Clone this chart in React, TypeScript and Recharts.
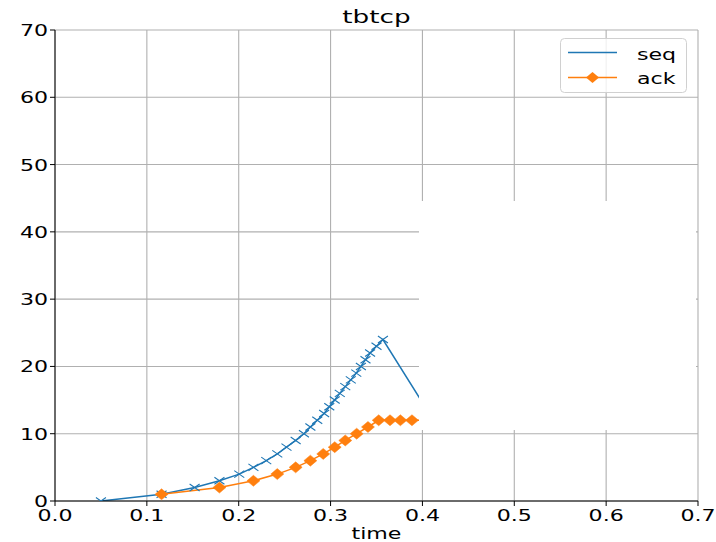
import React from 'react';
import {
  LineChart,
  Line,
  XAxis,
  YAxis,
  CartesianGrid,
} from 'recharts';

// seq series (time, seq number)
const seqTimes = [0.05, 0.116, 0.152, 0.179, 0.2006, 0.216, 0.23, 0.242, 0.252, 0.262, 0.271, 0.278, 0.2855, 0.293, 0.2986, 0.3045, 0.31, 0.316, 0.322, 0.328, 0.333, 0.338, 0.343, 0.35, 0.357, 0.412, 0.45];
const seqValues = [0, 1, 2, 3, 4, 5, 6, 7, 8, 9, 10, 11, 12, 13, 14, 15, 16, 17, 18, 19, 20, 21, 22, 23, 24, 12, 13];

// ack series
const ackTimes = [0.116, 0.179, 0.216, 0.242, 0.262, 0.278, 0.292, 0.3045, 0.316, 0.3284, 0.3407, 0.3524, 0.3647, 0.376, 0.3886, 0.405, 0.45];
const ackValues = [1, 2, 3, 4, 5, 6, 7, 8, 9, 10, 11, 12, 12, 12, 12, 12, 12];

const xTicks = [0, 0.1, 0.2, 0.3, 0.4, 0.5, 0.6, 0.7];
const yTicks = [0, 10, 20, 30, 40, 50, 60, 70];

const seqData = seqTimes.map((t, i) => ({ t, v: seqValues[i] }));
const ackData = ackTimes.map((t, i) => ({ t, v: ackValues[i] }));

const BLUE = '#1f77b4';
const ORANGE = '#ff7f0e';
const FONT = 'DejaVu Sans';
const STRETCH = 1.38;

const XMark = (props: any) => {
  const { cx, cy, index } = props;
  if (cx == null || cy == null) return <g key={`x${index}`} />;
  return (
    <path
      key={`x${index}`}
      d={`M${cx - 5},${cy - 3.5}L${cx + 5},${cy + 3.5}M${cx - 5},${cy + 3.5}L${cx + 5},${cy - 3.5}`}
      stroke={BLUE}
      strokeWidth={1.1}
      fill="none"
    />
  );
};

const Diamond = (props: any) => {
  const { cx, cy, index } = props;
  if (cx == null || cy == null) return <g key={`d${index}`} />;
  return (
    <path
      key={`d${index}`}
      d={`M${cx - 6.5},${cy}L${cx},${cy - 5.5}L${cx + 6.5},${cy}L${cx},${cy + 5.5}Z`}
      fill={ORANGE}
      stroke={ORANGE}
      strokeWidth={0.5}
    />
  );
};

const XTick = (props: any) => {
  const { x, y, payload } = props;
  return (
    <text
      transform={`translate(${x},${y + 13}) scale(${STRETCH},1)`}
      textAnchor="middle"
      fontFamily={FONT}
      fontSize={16}
      fill="#000"
    >
      {Number(payload.value).toFixed(1)}
    </text>
  );
};

const YTick = (props: any) => {
  const { x, y, payload } = props;
  return (
    <text
      transform={`translate(${x},${y + 6}) scale(${STRETCH},1)`}
      textAnchor="end"
      fontFamily={FONT}
      fontSize={16}
      fill="#000"
    >
      {payload.value}
    </text>
  );
};

export default function App() {
  return (
    <div style={{ position: 'absolute', left: 0, top: 0, width: 716, height: 542, background: '#fff' }}>
      <LineChart width={716} height={542} margin={{ top: 30, right: 18, bottom: 0, left: 0 }}>
        <CartesianGrid stroke="#b0b0b0" strokeWidth={1.1} />
        <XAxis
          dataKey="t"
          type="number"
          domain={[0, 0.7]}
          ticks={xTicks}
          allowDataOverflow
          height={41}
          stroke="#000"
          tickSize={5}
          tick={<XTick />}
          interval={0}
        />
        <XAxis xAxisId="top" orientation="top" type="number" domain={[0, 0.7]} height={0} stroke="#000" tick={false} tickLine={false} />
        <YAxis
          type="number"
          domain={[0, 70]}
          ticks={yTicks}
          allowDataOverflow
          width={55}
          stroke="#000"
          tickSize={5}
          tick={<YTick />}
          interval={0}
        />
        <YAxis yAxisId="right" orientation="right" type="number" domain={[0, 70]} width={0} stroke="#000" tick={false} tickLine={false} />
        <Line
          data={seqData}
          dataKey="v"
          name="seq"
          stroke={BLUE}
          strokeWidth={1.5}
          dot={XMark}
          activeDot={false}
          isAnimationActive={false}
        />
        <Line
          data={ackData}
          dataKey="v"
          name="ack"
          stroke={ORANGE}
          strokeWidth={1.5}
          dot={Diamond}
          activeDot={false}
          isAnimationActive={false}
        />
      </LineChart>
      {/* blank patch covering the middle-right of the plot */}
      <div style={{ position: 'absolute', left: 419, top: 201, width: 277, height: 229, background: '#fff' }} />
      <div
        style={{
          position: 'absolute', left: 0, width: 753, top: 6, textAlign: 'center',
          fontFamily: FONT, fontSize: 17.5, lineHeight: '22px', transform: 'scaleX(1.5)', transformOrigin: '376.5px 0',
        }}
      >
        tbtcp
      </div>
      <svg style={{ position: 'absolute', left: 0, top: 0, pointerEvents: 'none' }} width={716} height={542}>
        <text transform={`translate(376.5,539) scale(${STRETCH},1)`} textAnchor="middle" fontFamily={FONT} fontSize={16}>time</text>
        {/* legend */}
        <g transform="translate(560,38)">
          <rect x={0.5} y={0.5} width={126} height={54} rx={4} fill="#fff" fillOpacity={0.8} stroke="#d0d0d0" />
          <line x1={8} y1={14.5} x2={57} y2={14.5} stroke={BLUE} strokeWidth={1.5} />
          <text transform={`translate(77,22) scale(${STRETCH},1)`} fontFamily={FONT} fontSize={16}>seq</text>
          <line x1={8} y1={39.5} x2={57} y2={39.5} stroke={ORANGE} strokeWidth={1.5} />
          <path d="M26,39.5L32.5,34L39,39.5L32.5,45Z" fill={ORANGE} />
          <text transform={`translate(77,46) scale(${STRETCH},1)`} fontFamily={FONT} fontSize={16}>ack</text>
        </g>
      </svg>
    </div>
  );
}
